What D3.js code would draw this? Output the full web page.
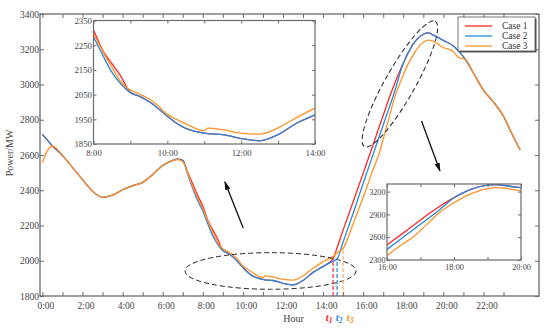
<!DOCTYPE html>
<html>
<head>
<meta charset="utf-8">
<script src="https://cdn.jsdelivr.net/npm/d3@7.9.0/dist/d3.min.js"></script>
<style>
  body { margin: 0; background: #fff; }
  svg { display: block; font-family: "Liberation Serif", "DejaVu Serif", serif; }
</style>
</head>
<body>
<svg id="chart" width="550" height="328"></svg>
<script>
// hour of day for every sample
const hours = [0, 0.25, 0.5, 1, 1.5, 2, 2.5, 3, 3.5, 4, 4.5, 5, 5.5, 6, 6.5, 6.75, 7, 7.25, 7.5, 7.75,
  8, 8.25, 8.5, 8.75, 9, 9.25, 9.5, 9.75, 10, 10.25, 10.5, 10.75, 11, 11.1, 11.5, 12, 12.5, 13, 13.5, 14,
  14.5, 14.7, 15, 15.5, 16, 16.5, 16.8, 17, 17.3, 17.5, 18, 18.5, 19, 19.25, 19.5, 20, 20.5, 20.75, 21.1, 21.5,
  22, 22.5, 23, 23.4, 23.83];

const case1 = [2717, 2684, 2651, 2598, 2530, 2460, 2395, 2360, 2372, 2403, 2425, 2445, 2490, 2540, 2570, 2577, 2570, 2500, 2435, 2370,
  2310, 2228, 2175, 2122, 2058, 2043, 2022, 1994, 1962, 1934, 1913, 1901, 1894, 1892, 1888, 1872, 1863, 1888, 1934, 1968,
  2012, 2075, 2175, 2335, 2497, 2660, 2760, 2825, 2925, 2985, 3120, 3230, 3285, 3293, 3280, 3250, 3218, 3190, 3143, 3065,
  2968, 2900, 2820, 2725, 2628];

const case2 = [2717, 2684, 2651, 2598, 2530, 2460, 2395, 2360, 2372, 2403, 2425, 2445, 2490, 2540, 2570, 2577, 2570, 2490, 2410, 2340,
  2283, 2210, 2140, 2092, 2058, 2043, 2022, 1994, 1962, 1934, 1913, 1901, 1894, 1892, 1888, 1872, 1863, 1888, 1934, 1968,
  1998, 2010, 2107, 2270, 2440, 2605, 2705, 2770, 2870, 2935, 3120, 3230, 3285, 3293, 3280, 3250, 3218, 3190, 3143, 3065,
  2968, 2900, 2820, 2725, 2628];

const case3 = [2556, 2625, 2651, 2598, 2530, 2460, 2395, 2360, 2372, 2403, 2425, 2445, 2490, 2540, 2570, 2574, 2562, 2495, 2420, 2355,
  2296, 2225, 2160, 2100, 2068, 2052, 2033, 2005, 1970, 1950, 1932, 1914, 1904, 1914, 1908, 1894, 1890, 1915, 1957, 1995,
  2025, 2045, 2070, 2210, 2360, 2520, 2610, 2690, 2815, 2900, 3055, 3170, 3240, 3252, 3245, 3210, 3186, 3154, 3143, 3065,
  2968, 2900, 2820, 2725, 2628];

const caseNames = ['Case 1', 'Case 2', 'Case 3'];
const caseColors = ['#ff2626', '#2589df', '#ff9326'];
const tColors = ['#ff3b3b', '#2f8fe3', '#ffb37a'];

const xTickHours = [0, 1, 2, 3, 4, 5, 6, 7, 8, 9, 10, 11, 12, 13, 14, 15, 16, 17, 18, 19, 20, 21, 22, 23];
const yTicks = [1800, 2000, 2200, 2400, 2600, 2800, 3000, 3200, 3400];

const inset1Hours = [8, 9, 10, 11, 12, 13, 14];
const inset1Ticks = [1850, 1950, 2050, 2150, 2250, 2350];
const inset2Hours = [16, 17, 18, 19, 20];
const inset2Ticks = [2300, 2600, 2900, 3200];

// switch moments t1, t2, t3 (index into hours)
const tIndex = [40, 41, 42];

const series = [case1, case2, case3].map((vals, i) => ({
  name: caseNames[i],
  color: caseColors[i],
  points: hours.map((h, j) => ({ h, v: vals[j] }))
}));

const svg = d3.select('#chart');
const axisColor = '#6b6b6b';
const textColor = '#444';

const x = d3.scaleLinear().domain([-0.12, 24.77]).range([40, 539]);
const y = d3.scaleLinear().domain([1800, 3400]).range([296, 14]);

const fmtHour = (h) => h + ':00';

function styleAxis(g, size) {
  g.select('.domain').remove();
  g.selectAll('.tick line').attr('stroke', axisColor).attr('stroke-width', 1);
  g.selectAll('.tick text').attr('fill', textColor).style('font-size', size + 'px')
    .style('font-family', '"Liberation Serif", "DejaVu Serif", serif');
}

function drawLines(g, xs, ys, clipId) {
  const line = d3.line().x(d => xs(d.h)).y(d => ys(d.v)).curve(d3.curveMonotoneX);
  const lg = g.append('g');
  if (clipId) lg.attr('clip-path', `url(#${clipId})`);
  lg.selectAll('path')
    .data(series)
    .join('path')
    .attr('fill', 'none')
    .attr('stroke', d => d.color)
    .attr('stroke-width', 1.3)
    .attr('d', d => line(d.points));
}

const defs = svg.append('defs');
defs.append('marker')
  .attr('id', 'arrow')
  .attr('viewBox', '0 0 10 6')
  .attr('refX', 9).attr('refY', 3)
  .attr('markerWidth', 9).attr('markerHeight', 6)
  .attr('markerUnits', 'userSpaceOnUse')
  .attr('orient', 'auto')
  .append('path').attr('d', 'M0,0 L10,3 L0,6 Z').attr('fill', '#111');

// ---- main plot ----
drawLines(svg, x, y, null);

// dashed ellipses marking the zoomed regions
const ellipses = [
  { h: 11.38, v: 1942, rx: 85.5, ry: 18.3, angle: 0 },
  { h: 17.83, v: 3003, rx: 72, ry: 15, angle: -60.5 }
];
svg.append('g').selectAll('ellipse')
  .data(ellipses)
  .join('ellipse')
  .attr('transform', d => `translate(${x(d.h)},${y(d.v)}) rotate(${d.angle})`)
  .attr('rx', d => d.rx).attr('ry', d => d.ry)
  .attr('fill', 'none').attr('stroke', '#222').attr('stroke-width', 1)
  .attr('stroke-dasharray', '5,3');

const arrows = [
  { from: [10.02, 2184], to: [9.1, 2448] },
  { from: [18.91, 2793], to: [19.83, 2509] }
];
svg.append('g').selectAll('line')
  .data(arrows)
  .join('line')
  .attr('x1', d => x(d.from[0])).attr('y1', d => y(d.from[1]))
  .attr('x2', d => x(d.to[0])).attr('y2', d => y(d.to[1]))
  .attr('stroke', '#111').attr('stroke-width', 1.3)
  .attr('marker-end', 'url(#arrow)');

// t1..t3 dashed markers
const tg = svg.append('g');
tIndex.forEach((idx, i) => {
  const h = hours[idx];
  const v = series[i].points[idx].v;
  tg.append('line')
    .attr('x1', x(h)).attr('x2', x(h))
    .attr('y1', y(1800)).attr('y2', y(v))
    .attr('stroke', tColors[i]).attr('stroke-width', 1.3)
    .attr('stroke-dasharray', '4,2');
  const t = tg.append('text')
    .attr('x', x(h) + [-4, 2, 7][i]).attr('y', 321)
    .attr('text-anchor', 'middle')
    .attr('fill', caseColors[i])
    .style('font-style', 'italic').style('font-weight', 'bold').style('font-size', '10.5px')
    .text('t');
  t.append('tspan').attr('dy', 2).style('font-size', '7.5px').text(i + 1);
});

// axes
svg.append('g').attr('transform', `translate(0,${y(1800)})`)
  .call(d3.axisBottom(x).tickValues(xTickHours).tickSize(-4).tickPadding(6)
    .tickFormat(h => h % 2 === 0 ? fmtHour(h) : ''))
  .call(g => styleAxis(g, 9.5))
  .call(g => g.selectAll('.tick text').attr('dx', 3));
svg.append('g').attr('transform', `translate(0,${y(3400)})`)
  .call(d3.axisTop(x).tickValues(xTickHours).tickSize(-4).tickFormat(''))
  .call(g => styleAxis(g, 9.5));
svg.append('g').attr('transform', `translate(${x.range()[0]},0)`)
  .call(d3.axisLeft(y).tickValues(yTicks).tickSize(-4).tickPadding(1).tickFormat(d3.format('d')))
  .call(g => styleAxis(g, 9.5));
svg.append('g').attr('transform', `translate(${x.range()[1]},0)`)
  .call(d3.axisRight(y).tickValues(yTicks).tickSize(-4).tickFormat(''))
  .call(g => styleAxis(g, 9.5));
svg.append('rect')
  .attr('x', x.range()[0]).attr('y', y(3400))
  .attr('width', x.range()[1] - x.range()[0]).attr('height', y(1800) - y(3400))
  .attr('fill', 'none').attr('stroke', axisColor).attr('stroke-width', 1.3);

svg.append('text')
  .attr('x', (x.range()[0] + x.range()[1]) / 2 + 4).attr('y', 322)
  .attr('text-anchor', 'middle').attr('fill', textColor).style('font-size', '10px')
  .text('Hour');
svg.append('text')
  .attr('transform', 'translate(13,153) rotate(-90)')
  .attr('text-anchor', 'middle').attr('fill', textColor).style('font-size', '10px')
  .text('Power/MW');

// ---- insets ----
function drawInset(id, xd, yd, box, xt, yt, labelHours, fs, xPad) {
  const xs = d3.scaleLinear().domain(xd).range([box.x0, box.x1]);
  const ys = d3.scaleLinear().domain(yd).range([box.y1, box.y0]);
  defs.append('clipPath').attr('id', id)
    .append('rect').attr('x', box.x0).attr('y', box.y0)
    .attr('width', box.x1 - box.x0).attr('height', box.y1 - box.y0);
  const g = svg.append('g');
  g.append('rect').attr('x', box.x0).attr('y', box.y0)
    .attr('width', box.x1 - box.x0).attr('height', box.y1 - box.y0)
    .attr('fill', '#fff');
  drawLines(g, xs, ys, id);
  g.append('g').attr('transform', `translate(0,${box.y1})`)
    .call(d3.axisBottom(xs).tickValues(xt).tickSize(-3).tickPadding(xPad)
      .tickFormat(h => labelHours.includes(h) ? fmtHour(h) : ''))
    .call(a => styleAxis(a, fs));
  g.append('g').attr('transform', `translate(0,${box.y0})`)
    .call(d3.axisTop(xs).tickValues(xt).tickSize(-3).tickFormat(''))
    .call(a => styleAxis(a, fs));
  g.append('g').attr('transform', `translate(${box.x0},0)`)
    .call(d3.axisLeft(ys).tickValues(yt).tickSize(-3).tickPadding(1.5).tickFormat(d3.format('d')))
    .call(a => styleAxis(a, fs));
  g.append('g').attr('transform', `translate(${box.x1},0)`)
    .call(d3.axisRight(ys).tickValues(yt).tickSize(-3).tickFormat(''))
    .call(a => styleAxis(a, fs));
  g.append('rect').attr('x', box.x0).attr('y', box.y0)
    .attr('width', box.x1 - box.x0).attr('height', box.y1 - box.y0)
    .attr('fill', 'none').attr('stroke', axisColor).attr('stroke-width', 1.2);
}

drawInset('clip1', [8, 14], [1850, 2350], { x0: 93.5, x1: 315, y0: 20.5, y1: 144 },
  inset1Hours, inset1Ticks, [8, 10, 12, 14], 8.8, 5.5);
drawInset('clip2', [16, 20], [2300, 3300], { x0: 387, x1: 521, y0: 184, y1: 260 },
  inset2Hours, inset2Ticks, [16, 18, 20], 8.2, 4.5);

// ---- legend ----
const leg = svg.append('g').attr('transform', 'translate(458,17)');
leg.append('rect').attr('x', 1.5).attr('y', 1.5).attr('width', 77).attr('height', 34).attr('fill', '#555');
leg.append('rect').attr('width', 77).attr('height', 34)
  .attr('fill', '#fff').attr('stroke', '#555').attr('stroke-width', 0.8);
series.forEach((s, i) => {
  const yy = 9 + i * 10;
  leg.append('line').attr('x1', 7).attr('x2', 34).attr('y1', yy).attr('y2', yy)
    .attr('stroke', s.color).attr('stroke-width', 1.3);
  leg.append('text').attr('x', 44).attr('y', yy + 3.3)
    .attr('fill', '#333').style('font-size', '9.5px').text(s.name);
});
</script>
</body>
</html>
